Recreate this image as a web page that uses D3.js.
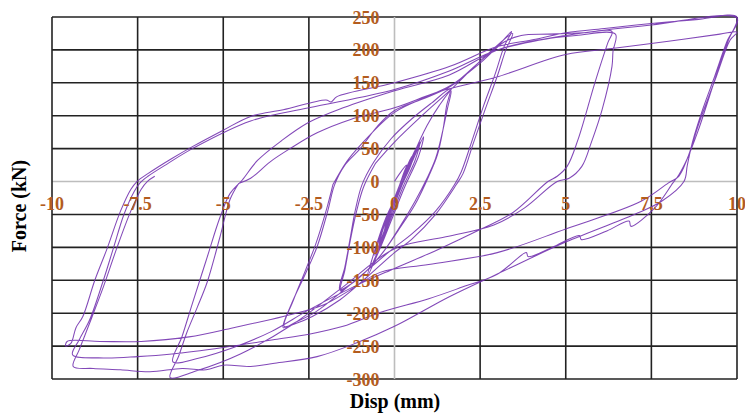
<!DOCTYPE html>
<html><head><meta charset="utf-8">
<script src="https://cdn.jsdelivr.net/npm/d3@7"></script>
<style>body{margin:0;background:#fff}svg{display:block}</style>
</head><body>
<svg id="c" width="745" height="414"></svg>
<script>
// ---------- tick labels ----------
const xTicks = [-10, -7.5, -5, -2.5, 0, 2.5, 5, 7.5, 10];
const xTickLabels = ["-10", "-7.5", "-5", "-2.5", "0", "2.5", "5", "7.5", "10"];
const yTicks = [-300, -250, -200, -150, -100, -50, 0, 50, 100, 150, 200, 250];
const yTickLabels = ["-300", "-250", "-200", "-150", "-100", "-50", "0", "50", "100", "150", "200", "250"];

// ---------- data: [disp (mm), force (kN)] ----------
const smallCycles = [
 [0,0],[0.15,12],[0.35,25],[0.25,10],[0.05,-20],[-0.15,-50],[-0.3,-75],[-0.2,-55],[0,-25],[0.15,-5],
 [0.3,15],[0.5,38],[0.38,18],[0.15,-10],[-0.1,-45],[-0.3,-75],[-0.45,-95],[-0.33,-72],[-0.1,-40],[0.1,-12],
 [0.35,18],[0.62,50],[0.48,25],[0.2,-8],[-0.1,-50],[-0.35,-85],[-0.58,-112],[-0.45,-88],[-0.15,-45],[0.15,-10],
 [0.45,25],[0.75,60],[0.6,32],[0.25,-8],[-0.1,-55],[-0.4,-95],[-0.7,-130],[-0.55,-100],[-0.2,-50],[0.15,-12],
 [0.5,28],[0.85,68],[0.7,38],[0.3,-8],[-0.1,-60],[-0.45,-105],[-0.8,-145],[-0.62,-112],[-0.25,-55],[0.2,-8]
];
const cycle17 = [
 [0.2,-8],[0.55,40],[0.95,85],[1.3,115],[1.65,138],
 [1.55,112],[1.4,75],[1.2,35],[0.95,5],[0.6,-30],[0.2,-65],[-0.3,-105],[-0.8,-135],[-1.25,-155],[-1.6,-164],
 [-1.45,-130],[-1.3,-88],[-1.15,-45],[-0.95,-5],[-0.6,30],[-0.1,65],[0.5,95],[1.1,120],[1.62,140],
 [1.52,115],[1.42,80],[1.25,40],[1.0,8],[0.6,-35],[0.1,-75],[-0.4,-112],[-0.9,-140],[-1.3,-157],[-1.58,-166],
 [-1.45,-135],[-1.3,-92],[-1.12,-48],[-0.9,-8],[-0.55,28]
];
const cycle34 = [
 [-0.55,28],[0,60],[0.8,100],[1.65,140],[2.4,178],[3.0,205],[3.42,228],
 [3.2,205],[2.95,165],[2.6,115],[2.25,60],[1.95,15],[1.75,-5],[1.2,-45],[0.5,-80],[0,-100],[-0.8,-135],[-1.6,-170],[-2.3,-198],[-2.9,-214],[-3.25,-222],
 [-3.0,-185],[-2.6,-140],[-2.26,-99],[-1.95,-45],[-1.75,-5],[-1.45,25],[-1.0,50],[-0.5,84],[0,108],[0.8,125],[1.65,145],[2.5,183],[3.0,207],[3.45,225],
 [3.25,200],[3.0,160],[2.65,110],[2.3,58],[2.0,12],[1.8,-5],[1.2,-50],[0.5,-88],[0,-108],[-0.8,-145],[-1.6,-180],[-2.4,-205],[-2.9,-216],[-3.22,-220],
 [-2.95,-180],[-2.6,-135],[-2.3,-95],[-2.0,-45],[-1.8,-5]
];
const cycle64 = [
 [-1.8,-5],[-1.4,30],[-1.0,55],[0,105],[1.0,130],[1.7,148],[2.5,180],[3.2,212],[3.7,222],[4.5,224],[5.5,226],[6.35,228],
 [6.23,211],[5.85,150],[5.36,64],[5.04,23],[4.75,8],[4.48,0],[3.46,-47],[2.5,-73],[1.2,-105],[0,-132],[-1.2,-160],[-2.5,-195],[-3.6,-228],[-4.7,-252],[-5.7,-268],[-6.47,-274],
 [-6.2,-235],[-5.9,-185],[-5.5,-120],[-5.1,-55],[-4.8,-18],[-4.45,2],[-4.0,32],[-3.3,62],[-2.5,90],[-1.5,112],[0,138],[1.6,162],[3.0,200],[4.2,215],[5.3,222],[6.45,224],
 [6.38,198],[6.35,175],[6.06,109],[5.75,60],[5.47,23],[5.1,5],[4.75,0],[3.8,-40],[2.9,-66],[1.5,-84],[0,-102],[-1.5,-160],[-3.0,-218],[-4.5,-262],[-5.8,-288],[-6.55,-298],
 [-6.3,-265],[-6.06,-229],[-5.75,-190],[-5.47,-153],[-5.1,-85],[-4.8,-27],[-4.55,-3]
];
const cycle10 = [
 [-4.55,-3],[-4.2,5],[-3.63,30],[-3.05,50],[-2.26,74],[-1.3,94],[0,112],[1.33,137],[2.93,158],[5.0,193],[6.35,202],[8.0,213],[9.5,224],[10,227],
 [9.8,215],[9.4,160],[8.9,90],[8.55,35],[8.3,8],[8.0,-2],
 [7.2,-30],[5.0,-72],[3.0,-108],[1.0,-126],[-0.42,-138],[-1.3,-165],[-2.1,-188],[-3.25,-205],[-4.7,-222],[-6.0,-236],[-7.4,-243],[-8.6,-243],[-9.56,-243],[-9.6,-250],[-9.45,-246],
 [-9.3,-222],[-9.1,-205],[-8.75,-150],[-8.4,-103],[-8.0,-45],[-7.7,-12],[-7.52,0],
 [-7.2,12],[-6.5,35],[-5.9,53],[-5.0,78],[-4.2,99],[-3.25,109],[-2.0,124],[-1.85,121],[-1.68,129],[0,150],[1.62,175],[3.0,205],[4.0,215],[5.0,226],[6.2,233],[7.5,240],[8.8,246],[10,250],
 [9.75,215],[9.45,170],[9.2,130],[8.85,75],[8.55,35],[8.3,10],[8.13,-2],
 [7.6,-40],[6.9,-68],[6.85,-60],[6.2,-75],[5.45,-88],[5.4,-82],[4.6,-100],[3.9,-114],[3.85,-108],[3.0,-141],[2.0,-160],[1.0,-178],[-0.42,-199],[-1.5,-220],[-2.5,-232],[-3.5,-240],[-5,-252],[-6.5,-262],[-7.5,-266],[-8.5,-268],[-9.4,-263],
 [-9.2,-240],[-8.9,-210],[-8.5,-150],[-8.2,-100],[-7.9,-50],[-7.6,-15],[-7.43,-2],
 [-7.2,8],[-6.6,28],[-5.9,50],[-4.2,92],[-2.5,112],[0,140],[1.6,168],[3.0,200],[5.0,222],[7.5,238],[10,248],
 [9.7,212],[9.35,160],[9.0,110],[8.7,60],[8.55,25],[8.45,0],
 [7.8,-30],[7.0,-50],[5.0,-92],[3.1,-138],[1.6,-175],[0,-220],[-1.1,-245],[-2.26,-266],[-3.5,-276],[-4.2,-281],[-5.0,-279],[-5.5,-286],[-6.2,-284],[-7.14,-289],[-8.0,-286],[-8.8,-284],[-9.38,-281],
 [-9.2,-255],[-8.9,-215],[-8.5,-160],[-8.1,-100],[-7.7,-45],[-7.4,-12],[-7.22,0],[-7.0,8]
];

// ---------- chart ----------
const svg = d3.select("#c");
const x = d3.scaleLinear().domain([-10, 10]).range([52, 737]);
const y = d3.scaleLinear().domain([-300, 250]).range([379, 17]);
const brown = "#b35c1e";
const serif = "'Liberation Serif','Times New Roman',serif";

const grid = svg.append("g");
grid.selectAll("line.h").data(yTicks).join("line")
  .attr("x1", x(-10)).attr("x2", x(10))
  .attr("y1", d => y(d)).attr("y2", d => y(d))
  .attr("stroke", d => d === 0 ? "#bdbdbd" : "#222").attr("stroke-width", 1.6);
grid.selectAll("line.v").data(xTicks).join("line")
  .attr("y1", y(-300)).attr("y2", y(250))
  .attr("x1", d => x(d)).attr("x2", d => x(d))
  .attr("stroke", d => d === 0 ? "#bdbdbd" : "#222").attr("stroke-width", 1.6);

const allData = [].concat(smallCycles, cycle17, cycle34, cycle64, cycle10);
const line = d3.line().x(d => x(d[0])).y(d => y(d[1])).curve(d3.curveCatmullRom.alpha(0.5));
svg.append("path").datum(allData).attr("d", line)
  .attr("fill", "none").attr("stroke", "#7434b0").attr("stroke-width", 1.05)
  .attr("stroke-opacity", 0.9).attr("stroke-linejoin", "round");

// tick labels
svg.append("g").selectAll("text").data(xTicks).join("text")
  .attr("x", d => x(d)).attr("y", y(0) + 28)
  .attr("text-anchor", "middle").attr("font-family", serif).attr("font-weight", "bold")
  .attr("font-size", 18).attr("fill", brown)
  .text((d, i) => xTickLabels[i]);
svg.append("g").selectAll("text").data(yTicks).join("text")
  .attr("x", x(0) - 15).attr("y", d => y(d) + 6.5)
  .attr("text-anchor", "end").attr("font-family", serif).attr("font-weight", "bold")
  .attr("font-size", 18).attr("fill", brown)
  .text((d, i) => yTickLabels[i]);

// axis titles
svg.append("text").attr("transform", "translate(26,206) rotate(-90)")
  .attr("text-anchor", "middle").attr("font-family", serif).attr("font-weight", "bold")
  .attr("font-size", 20).attr("fill", "#000").text("Force (kN)");
svg.append("text").attr("x", 395).attr("y", 408)
  .attr("text-anchor", "middle").attr("font-family", serif).attr("font-weight", "bold")
  .attr("font-size", 20).attr("fill", "#000").text("Disp (mm)");
</script>
</body></html>
